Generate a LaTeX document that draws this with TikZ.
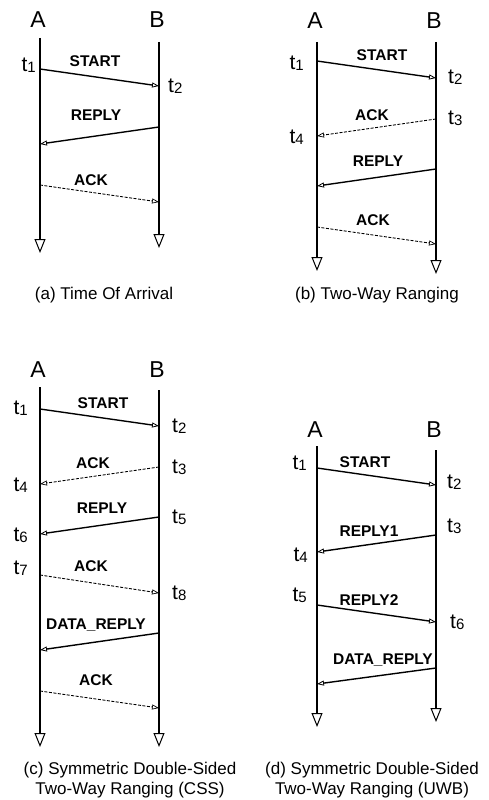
\documentclass[tikz,border=0pt]{standalone}
\usepackage{fontspec}
\setmainfont{Liberation Sans}
\usetikzlibrary{arrows.meta}

\tikzset{
  lifeline/.style={line width=1.9pt, -{Triangle[open, length=14pt, width=11pt, line width=1pt]}},
  msg/.style={line width=1.4pt, -{Triangle[open, length=7pt, width=5pt, line width=0.8pt]}},
  ackmsg/.style={line width=0.9pt, dash pattern=on 3pt off 1.5pt, -{Triangle[open, length=7pt, width=5pt, line width=0.7pt]}},
  party/.style={inner sep=0pt, font=\fontsize{23}{23}\selectfont},
  msglabel/.style={inner sep=0pt, font=\fontsize{15.5}{15.5}\selectfont\bfseries},
  tlabel/.style={inner sep=0pt, font=\fontsize{21}{21}\selectfont},
  caption/.style={inner sep=0pt, align=center, font=\fontsize{17}{20}\selectfont},
}
\newcommand{\tev}[1]{t\raisebox{-1pt}{\fontsize{15}{15}\selectfont #1}}

\begin{document}
\begin{tikzpicture}[x=1pt, y=-1pt]
\useasboundingbox (0,0) rectangle (489,800);

% Panel (a): time of arrival
\node[party] (a-A) at (38,20) {A};
\node[party] (a-B) at (157,20) {B};
\coordinate (a-Atop) at (40,38);  \coordinate (a-Abot) at (40,253);
\coordinate (a-Btop) at (159,42); \coordinate (a-Bbot) at (159,248);
\draw[lifeline] (a-Atop) -- (a-Abot);
\draw[lifeline] (a-Btop) -- (a-Bbot);
\coordinate (a-e1) at (40,69);   \coordinate (a-e2) at (159,86);
\coordinate (a-e3) at (159,127); \coordinate (a-e4) at (40,144);
\coordinate (a-e5) at (40,185);  \coordinate (a-e6) at (159,202);
\node[tlabel, anchor=east] (a-t1) at (36,65) {\tev{1}};
\node[tlabel, anchor=west] (a-t2) at (168,86) {\tev{2}};
\draw[msg] (a-e1) -- (a-e2);
\node[msglabel] (a-start) at (95,61) {START};
\draw[msg] (a-e3) -- (a-e4);
\node[msglabel] (a-reply) at (96,115) {REPLY};
\draw[ackmsg] (a-e5) -- (a-e6);
\node[msglabel] (a-ack) at (91,180) {ACK};
\node[caption] (a-cap) at (104,295) {(a) Time Of Arrival};

% Panel (b): two-way ranging
\node[party] (b-A) at (315,21) {A};
\node[party] (b-B) at (434,21) {B};
\coordinate (b-Atop) at (317,42); \coordinate (b-Abot) at (317,271);
\coordinate (b-Btop) at (436,42); \coordinate (b-Bbot) at (436,274);
\draw[lifeline] (b-Atop) -- (b-Abot);
\draw[lifeline] (b-Btop) -- (b-Bbot);
\coordinate (b-e1) at (317,61);  \coordinate (b-e2) at (436,78);
\coordinate (b-e3) at (436,119); \coordinate (b-e4) at (317,136);
\coordinate (b-e5) at (436,169); \coordinate (b-e6) at (317,186);
\coordinate (b-e7) at (317,227); \coordinate (b-e8) at (436,244);
\node[tlabel, anchor=east] (b-t1) at (304,63) {\tev{1}};
\node[tlabel, anchor=west] (b-t2) at (448,77) {\tev{2}};
\node[tlabel, anchor=west] (b-t3) at (448,118) {\tev{3}};
\node[tlabel, anchor=east] (b-t4) at (304,137) {\tev{4}};
\draw[msg] (b-e1) -- (b-e2);
\node[msglabel] (b-start) at (382,55) {START};
\draw[ackmsg] (b-e3) -- (b-e4);
\node[msglabel] (b-ack1) at (372,115) {ACK};
\draw[msg] (b-e5) -- (b-e6);
\node[msglabel] (b-reply) at (378,161) {REPLY};
\draw[ackmsg] (b-e7) -- (b-e8);
\node[msglabel] (b-ack2) at (373,220) {ACK};
\node[caption] (b-cap) at (377,295) {(b) Two-Way Ranging};

% Panel (c): SDS-TWR over CSS
\node[party] (c-A) at (38,370) {A};
\node[party] (c-B) at (157,370) {B};
\coordinate (c-Atop) at (40,387);  \coordinate (c-Abot) at (40,747);
\coordinate (c-Btop) at (159,390); \coordinate (c-Bbot) at (159,747);
\draw[lifeline] (c-Atop) -- (c-Abot);
\draw[lifeline] (c-Btop) -- (c-Bbot);
\coordinate (c-e1) at (40,409);   \coordinate (c-e2) at (159,426);
\coordinate (c-e3) at (159,467);  \coordinate (c-e4) at (40,484);
\coordinate (c-e5) at (159,517);  \coordinate (c-e6) at (40,534);
\coordinate (c-e7) at (40,575);   \coordinate (c-e8) at (159,593);
\coordinate (c-e9) at (159,633);  \coordinate (c-e10) at (40,650);
\coordinate (c-e11) at (40,691);  \coordinate (c-e12) at (159,708);
\node[tlabel, anchor=east] (c-t1) at (28,408) {\tev{1}};
\node[tlabel, anchor=west] (c-t2) at (172,426) {\tev{2}};
\node[tlabel, anchor=west] (c-t3) at (172,467) {\tev{3}};
\node[tlabel, anchor=east] (c-t4) at (28,485) {\tev{4}};
\node[tlabel, anchor=west] (c-t5) at (172,517) {\tev{5}};
\node[tlabel, anchor=east] (c-t6) at (28,535) {\tev{6}};
\node[tlabel, anchor=east] (c-t7) at (28,568) {\tev{7}};
\node[tlabel, anchor=west] (c-t8) at (172,593) {\tev{8}};
\draw[msg] (c-e1) -- (c-e2);
\node[msglabel] (c-start) at (103,403) {START};
\draw[ackmsg] (c-e3) -- (c-e4);
\node[msglabel] (c-ack1) at (93,463) {ACK};
\draw[msg] (c-e5) -- (c-e6);
\node[msglabel] (c-reply) at (102,508) {REPLY};
\draw[ackmsg] (c-e7) -- (c-e8);
\node[msglabel] (c-ack2) at (91,566) {ACK};
\draw[msg] (c-e9) -- (c-e10);
\node[msglabel] (c-data) at (96,625) {DATA\_REPLY};
\draw[ackmsg] (c-e11) -- (c-e12);
\node[msglabel] (c-ack3) at (96,680) {ACK};
\node[caption] (c-cap) at (130,780) {(c) Symmetric Double-Sided\\Two-Way Ranging (CSS)};

% Panel (d): SDS-TWR over UWB
\node[party] (d-A) at (315,430) {A};
\node[party] (d-B) at (434,430) {B};
\coordinate (d-Atop) at (317,446); \coordinate (d-Abot) at (317,727);
\coordinate (d-Btop) at (436,450); \coordinate (d-Bbot) at (436,722);
\draw[lifeline] (d-Atop) -- (d-Abot);
\draw[lifeline] (d-Btop) -- (d-Bbot);
\coordinate (d-e1) at (317,468); \coordinate (d-e2) at (436,485);
\coordinate (d-e3) at (436,535); \coordinate (d-e4) at (317,552);
\coordinate (d-e5) at (317,605); \coordinate (d-e6) at (436,622);
\coordinate (d-e7) at (436,668); \coordinate (d-e8) at (317,684);
\node[tlabel, anchor=east] (d-t1) at (307,463) {\tev{1}};
\node[tlabel, anchor=west] (d-t2) at (447,482) {\tev{2}};
\node[tlabel, anchor=west] (d-t3) at (447,526) {\tev{3}};
\node[tlabel, anchor=east] (d-t4) at (308,555) {\tev{4}};
\node[tlabel, anchor=east] (d-t5) at (307,595) {\tev{5}};
\node[tlabel, anchor=west] (d-t6) at (450,622) {\tev{6}};
\draw[msg] (d-e1) -- (d-e2);
\node[msglabel] (d-start) at (365,462) {START};
\draw[msg] (d-e3) -- (d-e4);
\node[msglabel] (d-reply1) at (369,531) {REPLY1};
\draw[msg] (d-e5) -- (d-e6);
\node[msglabel] (d-reply2) at (369,600) {REPLY2};
\draw[msg] (d-e7) -- (d-e8);
\node[msglabel] (d-data) at (383,660) {DATA\_REPLY};
\node[caption] (d-cap) at (372,780) {(d) Symmetric Double-Sided\\Two-Way Ranging (UWB)};
\end{tikzpicture}
\end{document}
